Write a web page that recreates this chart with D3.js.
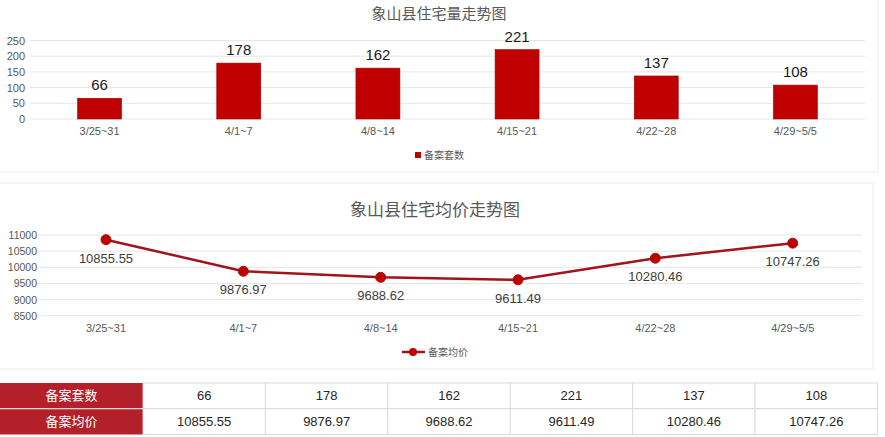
<!DOCTYPE html>
<html><head><meta charset="utf-8">
<script src="https://cdn.jsdelivr.net/npm/d3@7/dist/d3.min.js"></script>
<style>
body{margin:0;background:#fff;}
svg{display:block;font-family:"Liberation Sans","Noto Sans CJK SC",sans-serif;}
</style></head><body>
<svg id="c" width="885" height="437"></svg>
<script>
const categories = ["3/25~31","4/1~7","4/8~14","4/15~21","4/22~28","4/29~5/5"];
const units = [66,178,162,221,137,108];
const prices = [10855.55,9876.97,9688.62,9611.49,10280.46,10747.26];
const unitTicks = [0,50,100,150,200,250];
const priceTicks = [8500,9000,9500,10000,10500,11000];
const title1 = "象山县住宅量走势图";
const title2 = "象山县住宅均价走势图";
const seriesUnits = "备案套数";
const seriesPrice = "备案均价";

const svg = d3.select("#c");
const cjk = '"Noto Sans CJK SC",sans-serif';
const grid = "#e6e6e6";

// panel borders
svg.append("rect").attr("x",-1).attr("y",-1).attr("width",879).attr("height",173)
  .attr("fill","none").attr("stroke","#ececec");
svg.append("rect").attr("x",-1).attr("y",183).attr("width",874).attr("height",186)
  .attr("fill","none").attr("stroke","#ececec");

// ---------- top bar chart ----------
const x1 = d3.scaleBand().domain(categories).range([30,865]);
const y1 = d3.scaleLinear().domain([0,250]).range([119,40.5]);
const g1 = svg.append("g");
g1.selectAll("line.g").data(unitTicks).join("line")
  .attr("x1",30).attr("x2",865).attr("y1",d=>y1(d)).attr("y2",d=>y1(d))
  .attr("stroke",grid).attr("stroke-width",1);
g1.selectAll("text.yt").data(unitTicks).join("text")
  .attr("x",25).attr("y",d=>y1(d)+4).attr("text-anchor","end")
  .attr("font-size",11).attr("fill","#595959").text(d=>d);
const bw = x1.bandwidth()*0.316;
g1.selectAll("rect.bar").data(units).join("rect")
  .attr("x",(d,i)=>x1(categories[i])+x1.bandwidth()/2-bw/2)
  .attr("y",d=>y1(d)).attr("width",bw).attr("height",d=>y1(0)-y1(d))
  .attr("fill","#c00000").attr("stroke","#a00000").attr("stroke-width",0.6);
g1.selectAll("text.v").data(units).join("text")
  .attr("x",(d,i)=>x1(categories[i])+x1.bandwidth()/2).attr("y",d=>y1(d)-8)
  .attr("text-anchor","middle").attr("font-size",15).attr("fill","#1a1a1a").text(d=>d);
g1.selectAll("text.xl").data(categories).join("text")
  .attr("x",d=>x1(d)+x1.bandwidth()/2).attr("y",135)
  .attr("text-anchor","middle").attr("font-size",11).attr("fill","#595959").text(d=>d);
g1.append("text").attr("x",439).attr("y",19).attr("text-anchor","middle")
  .attr("font-family",cjk).attr("font-size",15).attr("fill","#595959").text(title1);
g1.append("rect").attr("x",415).attr("y",152).attr("width",6).attr("height",6).attr("fill","#c00000");
g1.append("text").attr("x",424).attr("y",159).attr("font-family",cjk).attr("font-size",10)
  .attr("fill","#595959").text(seriesUnits);

// ---------- bottom line chart ----------
const x2 = d3.scalePoint().domain(categories).range([106,792.7]);
const y2 = d3.scaleLinear().domain([8500,11000]).range([315.7,235]);
const g2 = svg.append("g");
g2.selectAll("line.g").data(priceTicks).join("line")
  .attr("x1",37).attr("x2",862).attr("y1",d=>y2(d)).attr("y2",d=>y2(d))
  .attr("stroke",grid).attr("stroke-width",1);
g2.selectAll("text.yt").data(priceTicks).join("text")
  .attr("x",37).attr("y",d=>y2(d)+4).attr("text-anchor","end")
  .attr("font-size",10.5).attr("fill","#595959").text(d=>d);
const line = d3.line().x((d,i)=>x2(categories[i])).y(d=>y2(d));
g2.append("path").datum(prices).attr("d",line).attr("fill","none")
  .attr("stroke","#a0141c").attr("stroke-width",2.5);
g2.selectAll("circle").data(prices).join("circle")
  .attr("cx",(d,i)=>x2(categories[i])).attr("cy",d=>y2(d)).attr("r",5)
  .attr("fill","#c00000").attr("stroke","#a0141c").attr("stroke-width",1);
g2.selectAll("text.v").data(prices).join("text")
  .attr("x",(d,i)=>x2(categories[i])).attr("y",d=>y2(d)+23)
  .attr("text-anchor","middle").attr("font-size",13).attr("fill","#404040")
  .text(d=>d.toFixed(2));
g2.selectAll("text.xl").data(categories).join("text")
  .attr("x",d=>x2(d)).attr("y",332)
  .attr("text-anchor","middle").attr("font-size",11).attr("fill","#595959").text(d=>d);
g2.append("text").attr("x",435).attr("y",216).attr("text-anchor","middle")
  .attr("font-family",cjk).attr("font-size",17).attr("fill","#595959").text(title2);
g2.append("line").attr("x1",402).attr("x2",425).attr("y1",352).attr("y2",352)
  .attr("stroke","#a0141c").attr("stroke-width",2.5);
g2.append("circle").attr("cx",413).attr("cy",352).attr("r",4).attr("fill","#c00000");
g2.append("text").attr("x",428).attr("y",356).attr("font-family",cjk).attr("font-size",10)
  .attr("fill","#595959").text(seriesPrice);

// ---------- table ----------
const rows = [{name:seriesUnits, vals:units.map(String)},
              {name:seriesPrice, vals:prices.map(d=>d.toFixed(2))}];
const colX = d3.scaleBand().domain(categories).range([143,877.5]);
const rowY = d3.scaleBand().domain([0,1]).range([383,434.5]);
const gt = svg.append("g");
rows.forEach((r,ri)=>{
  const y = rowY(ri), h = rowY.bandwidth();
  gt.append("rect").attr("x",0).attr("y",y).attr("width",143).attr("height",h)
    .attr("fill","#b3202a");
  gt.append("text").attr("x",71.5).attr("y",y+h/2+4.5).attr("text-anchor","middle")
    .attr("font-family",cjk).attr("font-size",13).attr("fill","#fff").text(r.name);
  gt.selectAll(null).data(r.vals).join("rect")
    .attr("x",(d,i)=>colX(categories[i])).attr("y",y).attr("width",colX.bandwidth()).attr("height",h)
    .attr("fill","#fff").attr("stroke","#dadada");
  gt.selectAll(null).data(r.vals).join("text")
    .attr("x",(d,i)=>colX(categories[i])+colX.bandwidth()/2).attr("y",y+h/2+4.5)
    .attr("text-anchor","middle").attr("font-size",13).attr("fill","#262626").text(d=>d);
});
gt.append("line").attr("x1",0).attr("x2",143).attr("y1",rowY(1)).attr("y2",rowY(1))
  .attr("stroke","#fff").attr("stroke-width",1.2);
</script></body></html>
